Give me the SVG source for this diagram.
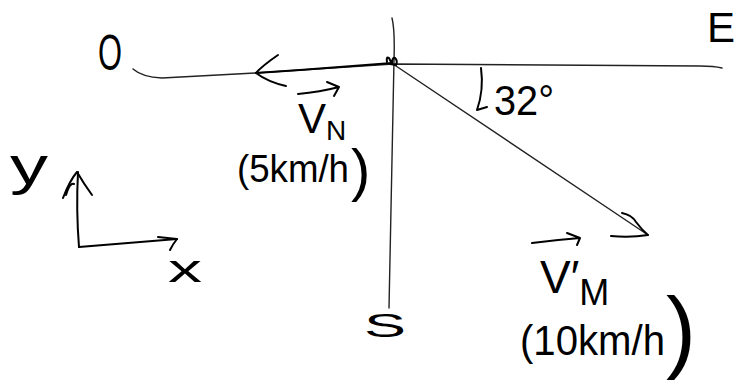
<svg xmlns="http://www.w3.org/2000/svg" width="736" height="392" viewBox="0 0 736 392">
<style>
.ink{fill:none;stroke:#000;stroke-width:2;stroke-linecap:round;stroke-linejoin:round}
.thin{fill:none;stroke:#222;stroke-width:1.4;stroke-linecap:round}
.t{font-family:"Liberation Sans","DejaVu Sans",sans-serif;fill:#000}
</style>
<rect width="736" height="392" fill="#fff"/>
<g id="connectors">
  <path id="west-east-line" class="thin" d="M133,69 Q142,77 162,78 L255,73 L393,64 L700,66 Q714,66 722,68"/>
  <path id="north-south-line" class="thin" d="M392,18 Q395,30 394,60 L389,308"/>
  <g id="vn-vector">
    <path class="ink" d="M256,73 L300,70 L392,63"/>
    <path class="ink" d="M278,55 Q262,66 256,73 Q268,82 286,86"/>
  </g>
  <g id="vm-vector">
    <path class="thin" d="M393,64 L648,235"/>
    <path class="ink" d="M622,213 Q632,215 636,222 Q642,230 648,235 Q630,238 611,236"/>
  </g>
  <g id="angle-arrow">
    <path class="ink" d="M481,68 Q484,90 477,110 L487,107"/>
  </g>
  <path id="origin-mark" class="ink" d="M387,62 Q386,56 389,58 Q391,62 392,64 Q392,57 395,58 Q398,61 396,65 L390,64"/>
</g>
<g id="axes">
  <path class="ink" d="M79,247 Q76,210 78,172"/>
  <path class="ink" d="M63,198 Q70,180 77,172 Q84,184 92,195"/>
  <path class="ink" d="M66,195 Q70,182 74,184"/>
  <path class="ink" d="M79,247 L177,239"/>
  <path class="ink" d="M158,237 L177,239 Q173,244 170,250"/>
  <text class="t" x="10" y="184" font-size="54" textLength="38" lengthAdjust="spacingAndGlyphs">y</text>
  <text class="t" x="168" y="282" font-size="38" textLength="34" lengthAdjust="spacingAndGlyphs">x</text>
</g>
<g id="node-O"><text class="t" x="98" y="70" font-size="50" textLength="24" lengthAdjust="spacingAndGlyphs">O</text></g>
<g id="node-E"><text class="t" x="707" y="42" font-size="42">E</text></g>
<g id="node-S"><text class="t" x="364" y="337" font-size="34" textLength="42" lengthAdjust="spacingAndGlyphs">S</text></g>
<g id="label-angle"><text class="t" x="494" y="115" font-size="42" textLength="60" lengthAdjust="spacingAndGlyphs">32°</text></g>
<g id="label-vn">
  <path class="ink" d="M298,94 Q320,92 339,87 M327,82 L339,87 L334,96"/>
  <text class="t" x="298" y="133" font-size="42">V<tspan font-size="28" dy="7">N</tspan></text>
  <text class="t" x="237" y="182" font-size="38" textLength="112" lengthAdjust="spacingAndGlyphs">(5km/h</text>
  <text class="t" x="351" y="190" font-size="58">)</text>
</g>
<g id="label-vm">
  <path class="ink" d="M532,243 Q555,240 580,238 M567,233 L580,238 L577,245"/>
  <text class="t" x="540" y="293" font-size="46">V′<tspan font-size="36" dy="12">M</tspan></text>
  <text class="t" x="520" y="355" font-size="42" textLength="145" lengthAdjust="spacingAndGlyphs">(10km/h</text>
  <text class="t" x="666" y="361" font-size="90">)</text>
</g>
</svg>
